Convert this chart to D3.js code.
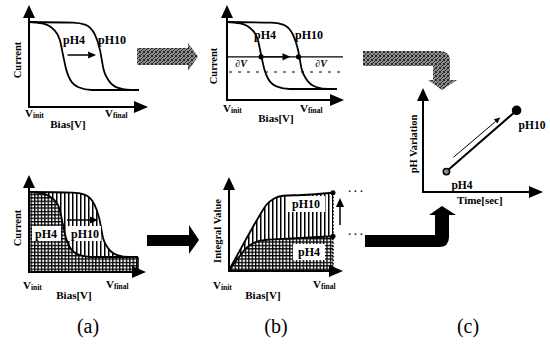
<!DOCTYPE html>
<html>
<head>
<meta charset="utf-8">
<script src="https://cdn.jsdelivr.net/npm/d3@7"></script>
<style>
  body { margin: 0; background: #fff; }
  svg { display: block; }
  text { font-family: "Liberation Serif", "Times New Roman", serif; font-weight: bold; fill: #000; }
</style>
</head>
<body>
<svg id="chart" width="550" height="345"></svg>
<script>
// bias in arbitrary units (0 = Vinit, 10 = Vfinal), current normalised 0..1
const biasPH4 = [0, 1.2, 2.3, 2.8, 3.1, 3.4, 3.75, 4.5, 5.7, 10];
const currentPH4 = [1, 0.98, 0.88, 0.74, 0.51, 0.29, 0.15, 0.04, 0, 0];
const biasPH10 = [0, 4.0, 5.1, 6.0, 6.45, 6.8, 7.2, 8.1, 9.2, 10];
const currentPH10 = [1, 0.99, 0.96, 0.81, 0.59, 0.29, 0.15, 0.03, 0, 0];

// integrated current over the bias sweep
const biasIntPH4 = [0, 1, 1.5, 2, 2.7, 3.5, 6, 10];
const integralPH4 = [0, 0.18, 0.27, 0.33, 0.38, 0.4, 0.42, 0.45];
const biasIntPH10 = [0, 1, 2, 3, 3.6, 4.3, 5.2, 7, 10];
const integralPH10 = [0, 0.25, 0.5, 0.74, 0.87, 0.95, 0.99, 1.0, 1.03];

// slope points taken at a fixed current level
const slopeLevel = 0.48;
const slopeBias = [3.1, 6.5];

// pH variation vs time (c)
const timeValues = [2, 8];
const phVariation = [2, 8];
const phLabels = ['pH4', 'pH10'];

const panelLabels = ['(a)', '(b)', '(c)'];

const zip = (xs, ys) => xs.map((x, i) => ({x: x, y: ys[i]}));
const ph4 = zip(biasPH4, currentPH4);
const ph10 = zip(biasPH10, currentPH10);
const int4 = zip(biasIntPH4, integralPH4);
const int10 = zip(biasIntPH10, integralPH10);

const svg = d3.select('#chart');
const defs = svg.append('defs');

// hatch patterns
const grid = defs.append('pattern').attr('id', 'grid')
    .attr('patternUnits', 'userSpaceOnUse').attr('width', 3.4).attr('height', 3.4);
grid.append('rect').attr('width', 3.4).attr('height', 3.4).attr('fill', '#fff');
grid.append('rect').attr('width', 1.3).attr('height', 3.4).attr('fill', '#000');
grid.append('rect').attr('width', 3.4).attr('height', 1.3).attr('fill', '#000');

const vert = defs.append('pattern').attr('id', 'vert')
    .attr('patternUnits', 'userSpaceOnUse').attr('width', 4).attr('height', 4);
vert.append('rect').attr('width', 4).attr('height', 4).attr('fill', '#fff');
vert.append('rect').attr('width', 1.5).attr('height', 4).attr('fill', '#000');

const dither = defs.append('pattern').attr('id', 'dither')
    .attr('patternUnits', 'userSpaceOnUse').attr('width', 4).attr('height', 4);
dither.append('rect').attr('width', 4).attr('height', 4).attr('fill', '#8c8c8c');
[[0, 0], [2, 1], [1, 2], [3, 3], [0, 3], [3, 0]].forEach(([px, py]) => {
    dither.append('rect').attr('x', px).attr('y', py).attr('width', 1).attr('height', 1).attr('fill', '#2a2a2a');
});

// one L shaped axis with arrow heads
const drawAxes = (g, o) => {
    g.append('path')
        .attr('d', `M${o.x0},${o.yTip + 10}V${o.y0}H${o.xTip - 10}`)
        .attr('fill', 'none').attr('stroke', '#000').attr('stroke-width', 2);
    g.append('path')
        .attr('d', `M${o.x0 - 6},${o.yTip + 13}L${o.x0},${o.yTip}L${o.x0 + 6},${o.yTip + 13}Z`);
    g.append('path')
        .attr('d', `M${o.xTip - 14},${o.y0 - 6}L${o.xTip},${o.y0}L${o.xTip - 14},${o.y0 + 6}Z`);
};

const vLabel = (g, x, y, sub) => {
    const t = g.append('text').attr('x', x).attr('y', y);
    t.append('tspan').attr('font-size', 11).text('V');
    t.append('tspan').attr('font-size', 7.5).attr('dy', 1).text(sub);
};

const textAt = (g, x, y, s, size, rotate) => {
    const t = g.append('text')
        .attr('text-anchor', 'middle')
        .attr('dominant-baseline', 'central')
        .attr('font-size', size)
        .text(s);
    if (rotate) t.attr('transform', `translate(${x},${y}) rotate(-90)`);
    else t.attr('x', x).attr('y', y);
    return t;
};

const arrowLine = (g, x1, y1, x2, y2, w, head) => {
    const ang = Math.atan2(y2 - y1, x2 - x1);
    const bx = x2 - head * Math.cos(ang), by = y2 - head * Math.sin(ang);
    g.append('line').attr('x1', x1).attr('y1', y1).attr('x2', bx).attr('y2', by)
        .attr('stroke', '#000').attr('stroke-width', w);
    const hw = head * 0.45;
    g.append('path').attr('d',
        `M${x2},${y2}L${bx - hw * Math.sin(ang)},${by + hw * Math.cos(ang)}L${bx + hw * Math.sin(ang)},${by - hw * Math.cos(ang)}Z`);
};

const lineGen = (x, y) => d3.line().x(d => x(d.x)).y(d => y(d.y)).curve(d3.curveMonotoneX);
const areaGen = (x, y, base) => d3.area().x(d => x(d.x)).y0(base).y1(d => y(d.y)).curve(d3.curveMonotoneX);

const curveStroke = (sel) => sel.attr('fill', 'none').attr('stroke', '#000').attr('stroke-width', 1.8);

// ---------- top left: current vs bias ----------
{
    const g = svg.append('g');
    const x = d3.scaleLinear().domain([0, 10]).range([29, 139]);
    const y = d3.scaleLinear().domain([0, 1]).range([90, 22]);
    drawAxes(g, {x0: 29, y0: 107, xTip: 148, yTip: 5});
    g.append('path').datum(ph4).attr('d', lineGen(x, y)).call(curveStroke);
    g.append('path').datum(ph10).attr('d', lineGen(x, y)).call(curveStroke);
    textAt(g, 74, 40, phLabels[0], 12);
    textAt(g, 112, 40, phLabels[1], 12);
    arrowLine(g, x(3.5), 55, x(6.1), 55, 1.5, 8);
    textAt(g, 17, 60, 'Current', 10.5, true);
    vLabel(g, 25, 117, 'init');
    vLabel(g, 105, 117, 'final');
    textAt(g, 68, 124, 'Bias[V]', 11);
}

// ---------- top middle: slope at a fixed current ----------
{
    const g = svg.append('g');
    const x = d3.scaleLinear().domain([0, 10]).range([227, 337]);
    const y = d3.scaleLinear().domain([0, 1]).range([89, 22]);
    drawAxes(g, {x0: 227, y0: 100, xTip: 344, yTip: 5});
    g.append('path').datum(ph4).attr('d', lineGen(x, y)).call(curveStroke);
    g.append('path').datum(ph10).attr('d', lineGen(x, y)).call(curveStroke);
    g.append('line').attr('x1', 227).attr('x2', 343).attr('y1', y(slopeLevel)).attr('y2', y(slopeLevel))
        .attr('stroke', '#000').attr('stroke-width', 1.2);
    g.append('line').attr('x1', 229).attr('x2', 343).attr('y1', 72).attr('y2', 72)
        .attr('stroke', '#000').attr('stroke-width', 1).attr('stroke-dasharray', '3,6');
    slopeBias.forEach(b => {
        g.append('circle').attr('cx', x(b)).attr('cy', y(slopeLevel)).attr('r', 2.6);
    });
    arrowLine(g, x(slopeBias[0]) + 3, y(slopeLevel), x(slopeBias[1]) - 8, y(slopeLevel), 1.2, 8);
    textAt(g, 265, 35, phLabels[0], 12);
    textAt(g, 309, 35, phLabels[1], 12);
    textAt(g, 241, 63, '\u2202V', 10).attr('font-style', 'italic');
    textAt(g, 321, 63, '\u2202V', 10).attr('font-style', 'italic');
    textAt(g, 213, 66, 'Current', 10.5, true);
    vLabel(g, 223, 112, 'init');
    vLabel(g, 300, 112, 'final');
    textAt(g, 276, 118, 'Bias[V]', 11);
}

// ---------- bottom left: areas under the current curves ----------
{
    const g = svg.append('g');
    const x = d3.scaleLinear().domain([0, 10]).range([29, 138]);
    const y = d3.scaleLinear().domain([0, 1]).range([257, 192]);
    const base = 272;
    g.append('path').datum(ph10).attr('d', areaGen(x, y, base)).attr('fill', 'url(#vert)');
    g.append('path').datum(ph4).attr('d', areaGen(x, y, base)).attr('fill', 'url(#grid)');
    g.append('path').datum(ph10).attr('d', lineGen(x, y)).call(curveStroke);
    g.append('path').datum(ph4).attr('d', lineGen(x, y)).call(curveStroke);
    g.append('line').attr('x1', 138).attr('x2', 138).attr('y1', y(0)).attr('y2', base)
        .attr('stroke', '#000').attr('stroke-width', 1.5);
    drawAxes(g, {x0: 29, y0: base, xTip: 146, yTip: 175});
    g.append('rect').attr('x', 32).attr('y', 226).attr('width', 29).attr('height', 15).attr('fill', '#fff');
    g.append('rect').attr('x', 68).attr('y', 226).attr('width', 33).attr('height', 15).attr('fill', '#fff');
    textAt(g, 46, 234, phLabels[0], 12);
    textAt(g, 85, 234, phLabels[1], 12);
    arrowLine(g, 67, 220, 98, 220, 1.5, 8);
    textAt(g, 17, 228, 'Current', 10.5, true);
    vLabel(g, 23, 289, 'init');
    vLabel(g, 106, 288, 'final');
    textAt(g, 74, 295, 'Bias[V]', 11);
}

// ---------- bottom middle: integral value ----------
{
    const g = svg.append('g');
    const x = d3.scaleLinear().domain([0, 10]).range([229, 333]);
    const y = d3.scaleLinear().domain([0, 1]).range([270, 195]);
    const base = 271;
    g.append('path').datum(int10).attr('d', areaGen(x, y, base)).attr('fill', 'url(#vert)');
    g.append('path').datum(int4).attr('d', areaGen(x, y, base)).attr('fill', 'url(#grid)');
    g.append('rect').attr('x', 287).attr('y', 196).attr('width', 38).attr('height', 16).attr('fill', '#fff');
    g.append('rect').attr('x', 293).attr('y', 244).attr('width', 32).attr('height', 16).attr('fill', '#fff');
    g.append('path').datum(int10).attr('d', lineGen(x, y)).call(curveStroke);
    g.append('path').datum(int4).attr('d', lineGen(x, y)).call(curveStroke);
    g.append('line').attr('x1', x(10)).attr('x2', x(10)).attr('y1', y(integralPH10[integralPH10.length - 1])).attr('y2', base)
        .attr('stroke', '#000').attr('stroke-width', 1.5).attr('stroke-dasharray', '2,1.5');
    [integralPH10, integralPH4].forEach(arr => {
        const v = arr[arr.length - 1];
        g.append('circle').attr('cx', x(10)).attr('cy', y(v)).attr('r', 2.5);
        g.append('text').attr('x', 348).attr('y', y(v) + 2).attr('font-size', 10).text('\u00b7 \u00b7 \u00b7');
    });
    drawAxes(g, {x0: 229, y0: base, xTip: 343, yTip: 177});
    arrowLine(g, 340, 225, 340, 198, 1.5, 9);
    textAt(g, 306, 204, phLabels[1], 12);
    textAt(g, 309, 252, phLabels[0], 12);
    textAt(g, 217, 231, 'Integral Value', 10.5, true);
    vLabel(g, 213, 289, 'init');
    vLabel(g, 313, 288, 'final');
    textAt(g, 263, 295, 'Bias[V]', 11);
}

// ---------- right: pH variation vs time ----------
{
    const g = svg.append('g');
    const x = d3.scaleLinear().domain([0, 10]).range([423, 540]);
    const y = d3.scaleLinear().domain([0, 10]).range([192, 90]);
    drawAxes(g, {x0: 423, y0: 192, xTip: 543, yTip: 88});
    const pts = zip(timeValues, phVariation);
    g.append('line')
        .attr('x1', x(pts[0].x)).attr('y1', y(pts[0].y))
        .attr('x2', x(pts[1].x)).attr('y2', y(pts[1].y))
        .attr('stroke', '#000').attr('stroke-width', 2);
    g.append('circle').attr('cx', x(pts[0].x)).attr('cy', y(pts[0].y)).attr('r', 3.2)
        .attr('fill', '#888').attr('stroke', '#000').attr('stroke-width', 1.5);
    g.append('circle').attr('cx', x(pts[1].x)).attr('cy', y(pts[1].y)).attr('r', 4.8);
    arrowLine(g, x(2.6), y(3.4), x(6.6), y(7.3), 1, 6);
    textAt(g, 462, 185, phLabels[0], 11.5);
    textAt(g, 532, 125, phLabels[1], 11.5);
    textAt(g, 413, 144, 'pH Variation', 10.5, true);
    g.append('text').attr('x', 457).attr('y', 204).attr('font-size', 11).text('Time[sec]');
}

// ---------- flow arrows ----------
svg.append('path')
    .attr('d', 'M137,48H188V43L198,56.5L188,71V65H137Z')
    .attr('fill', 'url(#dither)');
svg.append('path')
    .attr('d', 'M363,51H440Q450,51 450,61V80H457L442,90L428,80H433V66H363Z')
    .attr('fill', 'url(#dither)');
svg.append('path')
    .attr('d', 'M147,235H189V225L199,240L189,254V246H147Z');
svg.append('path')
    .attr('d', 'M365,235H435V215H429L442,206L456,215H449V237Q449,247 439,247H365Z');

// ---------- panel captions ----------
[88, 276, 468].forEach((cx, i) => {
    svg.append('text')
        .attr('x', cx).attr('y', 333)
        .attr('text-anchor', 'middle')
        .attr('font-size', 20)
        .style('font-weight', 'normal')
        .text(panelLabels[i]);
});
</script>
</body>
</html>
